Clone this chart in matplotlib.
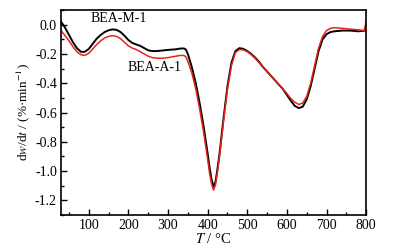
import numpy as np
import matplotlib
matplotlib.use('Agg')
import matplotlib.pyplot as plt
from matplotlib.ticker import MultipleLocator

# ------------------------------------------------ DATE ---------------------------------------------------------------

temp_m = [30, 40, 50, 60, 70, 80, 90, 100, 110, 120, 130, 140, 150, 160, 170, 180, 190, 200, 210, 220,
          230, 240, 250, 260, 270, 280, 290, 300, 310, 320, 330, 340, 345, 350, 360, 370, 380, 390, 400, 405,
          410, 415, 420, 425, 430, 440, 450, 460, 470, 480, 490, 500, 510, 520, 530, 540, 550, 560, 570, 580,
          590, 600, 610, 620, 630, 640, 650, 660, 670, 680, 690, 700, 710, 720, 740, 760, 780, 800]
dtg_m = [0.02, -0.02, -0.07, -0.12, -0.16, -0.185, -0.185, -0.165, -0.13, -0.095, -0.07, -0.05, -0.038,
         -0.032, -0.035, -0.05, -0.075, -0.105, -0.125, -0.135, -0.145, -0.16, -0.175, -0.18, -0.18,
         -0.178, -0.175, -0.172, -0.17, -0.168, -0.163, -0.162, -0.17, -0.2, -0.29, -0.4, -0.54, -0.7,
         -0.88, -0.98, -1.06, -1.11, -1.07, -0.98, -0.88, -0.64, -0.42, -0.26, -0.18, -0.16, -0.165,
         -0.18, -0.2, -0.225, -0.255, -0.29, -0.32, -0.35, -0.38, -0.41, -0.44, -0.48, -0.52, -0.555,
         -0.57, -0.56, -0.51, -0.42, -0.3, -0.18, -0.1, -0.065, -0.05, -0.045, -0.04, -0.04, -0.045, -0.04]

temp_a = [30, 40, 50, 60, 70, 80, 90, 100, 110, 120, 130, 140, 150, 160, 170, 180, 190, 200, 210, 220,
          230, 240, 250, 260, 270, 280, 290, 300, 310, 320, 330, 340, 345, 350, 360, 370, 380, 390, 400, 405,
          410, 415, 420, 425, 430, 440, 450, 460, 470, 480, 490, 500, 510, 520, 530, 540, 550, 560, 570, 580,
          590, 600, 610, 620, 630, 640, 650, 660, 670, 680, 690, 700, 710, 720, 740, 760, 780, 795, 800]
dtg_a = [-0.04, -0.075, -0.11, -0.15, -0.185, -0.205, -0.21, -0.195, -0.165, -0.135, -0.11, -0.09, -0.08,
         -0.075, -0.08, -0.095, -0.12, -0.145, -0.16, -0.17, -0.185, -0.2, -0.215, -0.225, -0.228,
         -0.23, -0.228, -0.225, -0.22, -0.215, -0.21, -0.21, -0.22, -0.25, -0.33, -0.44, -0.58, -0.74,
         -0.92, -1.02, -1.09, -1.13, -1.09, -1.0, -0.9, -0.66, -0.44, -0.28, -0.19, -0.17, -0.172,
         -0.185, -0.205, -0.23, -0.26, -0.29, -0.32, -0.35, -0.38, -0.41, -0.44, -0.47, -0.505, -0.53,
         -0.545, -0.535, -0.49, -0.4, -0.28, -0.16, -0.08, -0.04, -0.025, -0.02, -0.025, -0.03, -0.035,
         -0.04, 0.02]

# ----------------------------------------------- GRAFIC --------------------------------------------------------------

plt.rcParams['font.family'] = ['Liberation Serif', 'DejaVu Serif']
plt.rcParams['mathtext.fontset'] = 'stix'
plt.rcParams['axes.unicode_minus'] = False
plt.rcParams['font.size'] = 10

fig = plt.figure(figsize=(4.1, 2.52), dpi=100)
ax = fig.add_axes([0.149, 0.147, 0.744, 0.813])

ax.plot(temp_m, dtg_m, color='black', linewidth=1.4)
ax.plot(temp_a, dtg_a, color='#e8231e', linewidth=1.1)

ax.set_xlim(30, 800)
ax.set_ylim(-1.3, 0.1)
ax.xaxis.set_major_locator(MultipleLocator(100))
ax.xaxis.set_minor_locator(MultipleLocator(50))
ax.yaxis.set_minor_locator(MultipleLocator(0.1))
yt = np.arange(-1.2, 0.01, 0.2)
ax.set_yticks(yt)
ax.set_yticklabels(['%.1f' % v if abs(v) > 1e-9 else '0.0' for v in yt])

ax.tick_params(which='both', direction='in', top=False, right=False)
ax.tick_params(which='major', length=4, width=1, pad=3)
ax.tick_params(which='minor', length=2, width=1)
for s in ax.spines.values():
    s.set_linewidth(1.2)

ax.set_xlabel(r'$T$ / °C', labelpad=0, fontsize=10.5)
ax.set_ylabel(r'd$w$/d$t$ / (%·min$^{-1}$)', labelpad=2, fontsize=9.5)

ax.text(176, 0.043, 'BEA-M-1', ha='center', va='center', fontsize=10)
ax.text(267, -0.29, 'BEA-A-1', ha='center', va='center', fontsize=10)

fig.savefig('out.png', dpi=100)
